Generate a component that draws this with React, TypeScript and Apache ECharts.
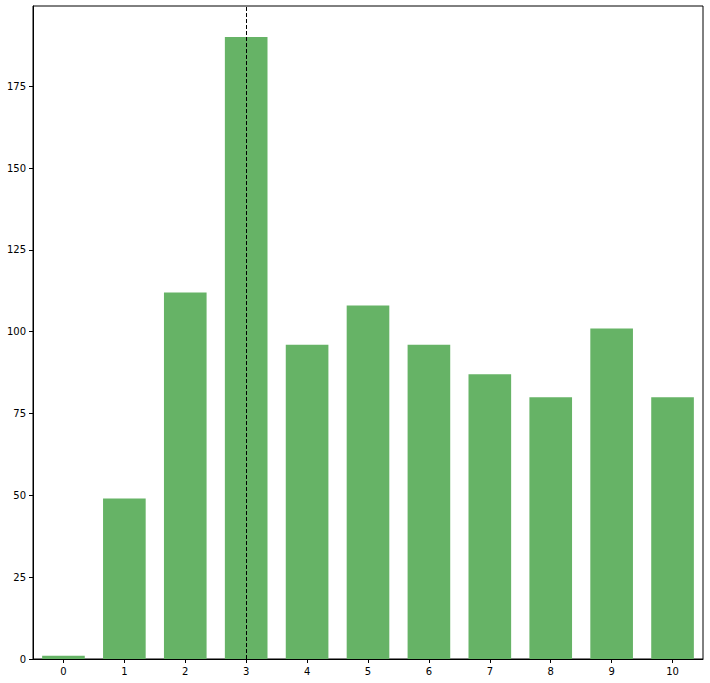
import React, { useEffect, useRef } from "react";
import * as echarts from "echarts";

const categories = ["0", "1", "2", "3", "4", "5", "6", "7", "8", "9", "10"];
const counts = [1, 49, 112, 190, 96, 108, 96, 87, 80, 101, 80];
const markedCategory = "3";
const yMax = 199.5;
const yInterval = 25;

export default function App() {
  const ref = useRef<HTMLDivElement>(null);
  useEffect(() => {
    if (!ref.current) return;
    const chart = echarts.init(ref.current, null, { renderer: "svg" });
    const font = "DejaVu Sans";
    chart.setOption({
      animation: false,
      backgroundColor: "#ffffff",
      grid: {
        left: 33,
        top: 6,
        right: 7,
        bottom: 24,
        show: true,
        borderColor: "#000000",
        borderWidth: 1,
        backgroundColor: "transparent",
      },
      xAxis: {
        type: "category",
        data: categories,
        boundaryGap: true,
        axisLine: { show: true, lineStyle: { color: "#000000", width: 1 } },
        axisTick: { show: true, alignWithLabel: true, length: 4, lineStyle: { color: "#000000" } },
        axisLabel: { color: "#000000", fontFamily: font, fontSize: 10, margin: 7 },
        splitLine: { show: false },
      },
      yAxis: {
        type: "value",
        min: 0,
        max: yMax,
        interval: yInterval,
        axisLine: { show: true, lineStyle: { color: "#000000", width: 1 } },
        axisTick: { show: true, length: 4, lineStyle: { color: "#000000" } },
        axisLabel: {
          color: "#000000",
          fontFamily: font,
          fontSize: 10,
          margin: 7,
          showMaxLabel: false,
          formatter: (v: number) => (v % yInterval === 0 ? String(v) : ""),
        },
        splitLine: { show: false },
      },
      series: [
        {
          type: "bar",
          data: counts,
          barCategoryGap: "30%",
          itemStyle: { color: "rgb(102,179,102)" },
          markLine: {
            silent: true,
            symbol: "none",
            label: { show: false },
            lineStyle: { color: "#000000", type: [4, 2], width: 1 },
            data: [{ xAxis: markedCategory }],
          },
        },
      ],
    });
    return () => chart.dispose();
  }, []);
  return <div ref={ref} style={{ width: 710, height: 683, position: "absolute", left: 0, top: 0 }} />;
}
